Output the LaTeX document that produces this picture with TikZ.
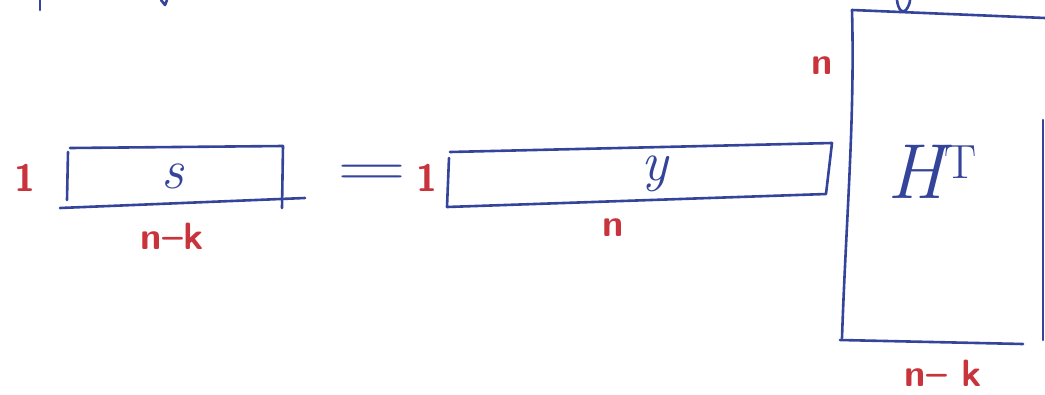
\documentclass[tikz,border=0pt]{standalone}
\usepackage{tikz}
\definecolor{pen}{HTML}{34449A}
\definecolor{ink}{HTML}{C9333B}
\tikzset{
  stroke/.style={draw=pen, line width=2.6pt, line cap=round, line join=round},
  dimlabel/.style={text=ink, font=\fontsize{38}{38}\selectfont\bfseries\sffamily, inner sep=0pt},
  symlabel/.style={text=pen, font=\fontsize{56}{56}\selectfont\itshape, inner sep=0pt}
}
\begin{document}
\begin{tikzpicture}[x=1pt,y=-1pt]
\useasboundingbox (0,0) rectangle (1045,394);
% fragments at top
\draw[stroke] (40,0) -- (40,10);
\draw[stroke] (161,0) -- (165,5) -- (167,0);
% s box
\draw[stroke] (70,148) -- (283,146) -- (282,208);
\draw[stroke] (68,152) -- (67,200);
\draw[stroke] (60,208) -- (305,198);
\node[symlabel] (s) at (173,176) {s};
\node[dimlabel] (s1) at (25,178) {1};
\node[dimlabel] (snk) at (172,236) {n\textendash k};
% equals
\node[text=pen, font=\fontsize{60}{60}\selectfont, inner sep=0pt, xscale=1.6] (eq) at (372,176) {=};
% y box
\draw[stroke] (450,152) -- (832,143) -- (826,194) -- (447,207) -- (449,158);
\node[symlabel] (y) at (655,174) {y};
\node[dimlabel] (y1) at (427,178) {1};
\node[dimlabel] (yn) at (613,228) {n};
% H^T box
\draw[stroke] (852,10) .. controls (855,120) and (846,220) .. (842,338);
\draw[stroke] (852,10) -- (1045,18);
\draw[stroke] (840,340) -- (1023,344);
\draw[stroke] (1043,120) -- (1043,340);
\draw[stroke] (897,0) .. controls (898,10) and (903,14) .. (906,10) .. controls (909,6) and (910,2) .. (910,0);
\node[text=pen, font=\fontsize{78}{78}\selectfont\itshape, inner sep=0pt] (ht) at (932,172) {H\raisebox{20pt}{\fontsize{48}{48}\selectfont\upshape T}};
\node[dimlabel] (hn) at (822,66) {n};
\node[dimlabel] (hnk) at (943,373) {n\textendash\ k};
\end{tikzpicture}
\end{document}
